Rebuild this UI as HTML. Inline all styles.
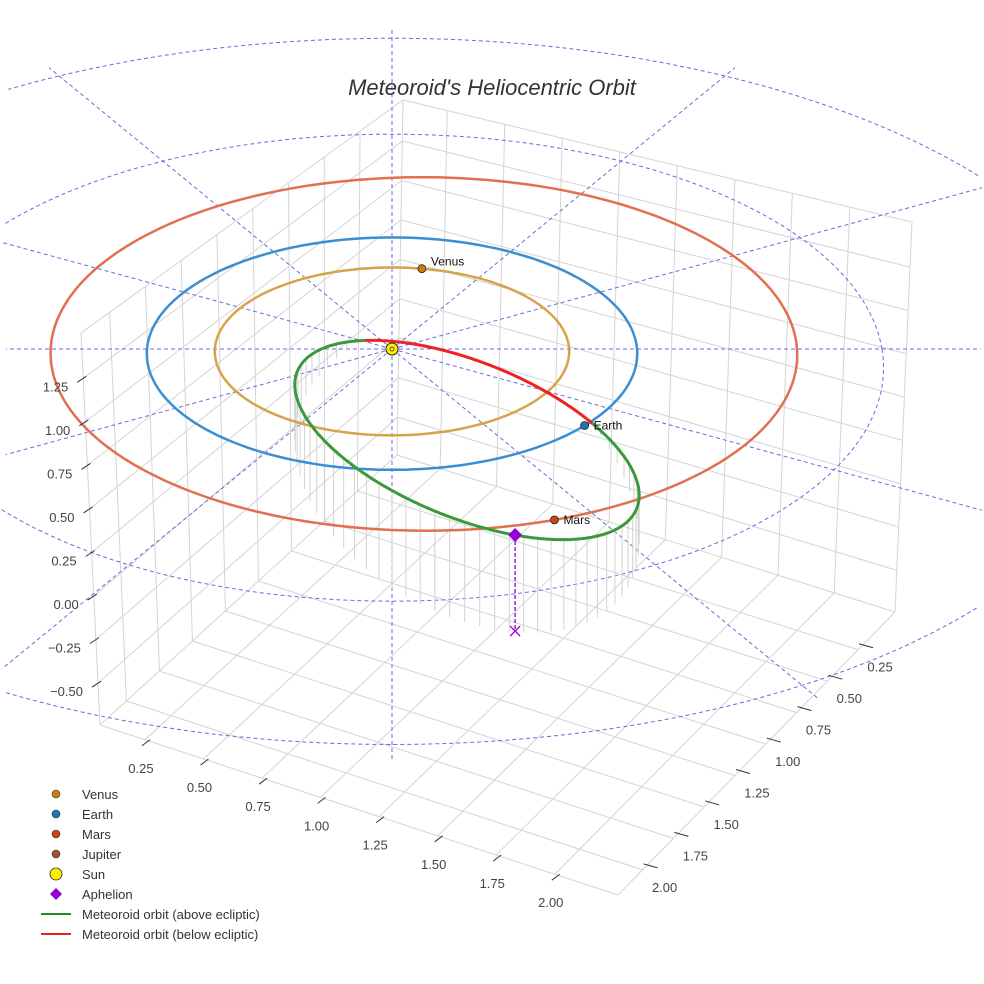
<!DOCTYPE html>
<html><head><meta charset="utf-8"><style>
html,body{margin:0;padding:0;background:#fff;width:984px;height:984px;overflow:hidden}
svg{display:block;overflow:hidden;font-family:"Liberation Sans",sans-serif}
</style></head><body>
<svg id="chart" width="984" height="984" viewBox="0 0 984 984" xmlns="http://www.w3.org/2000/svg">
<rect width="984" height="984" fill="#fff"/>
<g id="walls"></g>
<g id="polar"></g>
<g id="drops"></g>
<g id="orbits"></g>
<g id="meteor"></g>
<g id="marks"></g>
<g id="ticks"></g>
<text x="492" y="95" text-anchor="middle" font-size="22" font-style="italic" fill="#333">Meteoroid's Heliocentric Orbit</text>
<g id="legend"></g>
</svg>
<script>
// ---- data ----
const xTicks = [0.25,0.50,0.75,1.00,1.25,1.50,1.75,2.00];
const yTicks = [0.25,0.50,0.75,1.00,1.25,1.50,1.75,2.00];
const zTicks = [-0.50,-0.25,0.00,0.25,0.50,0.75,1.00,1.25];
const planetNames = ["Venus","Earth","Mars"];
const planetRadii = [0.723,1.0,1.524];
const planetCenterX = [0,0,0.13];
const planetCenterY = [0,0,0.05];
const planetAngles = [80,-40,-71];
const planetColors = ["#d8a24c","#3b8fd0","#e0704f"];
const markerColors = ["#c87d0f","#1f77b4","#cc4411"];
const gridRadii = [1,2,3];
const gridAngles = [0,30,60,90,120,150,180,210,240,270,300,330];
const radialLength = [3.1];
// meteoroid orbit (screen-projected ellipse): centre x, centre y, semi-major, semi-minor, rotation deg
const meteorEllipse = [467,440,183,78,22];
const redRange = [-136,-53];
const aphelionT = [64];
const dropPeak = [100];
const aphelionDrop = [96];

const NS="http://www.w3.org/2000/svg";
function mk(tag,attrs,parent){const e=document.createElementNS(NS,tag);for(const k in attrs)e.setAttribute(k,attrs[k]);parent.appendChild(e);return e;}
const $=id=>document.getElementById(id);

// ---- box geometry ----
const xr=[0.058,2.27], yr=[-0.05,2.2], zr=[-0.74,1.51];
const L=[100,725],F=[618,895],R=[895,612],B=[397,455];
const Lt=[81,333],Bt=[403,100],Rt=[912,222];
function lerp(a,b,t){return [a[0]+(b[0]-a[0])*t,a[1]+(b[1]-a[1])*t];}
function bil(p00,p10,p11,p01,u,v){return lerp(lerp(p00,p10,u),lerp(p01,p11,u),v);}
const fx=x=>(x-xr[0])/(xr[1]-xr[0]);
const fy=y=>(yr[1]-y)/(yr[1]-yr[0]);
const fz=z=>(z-zr[0])/(zr[1]-zr[0]);
const W=$("walls");
function gl(a,b,name){const l=mk("line",{x1:a[0],y1:a[1],x2:b[0],y2:b[1],stroke:"#d4d4d4","stroke-width":1},W);

}
xTicks.forEach(x=>{gl(bil(L,F,R,B,fx(x),0),bil(L,F,R,B,fx(x),1),'floor-gridline-x');});
yTicks.forEach(y=>{gl(bil(L,F,R,B,0,fy(y)),bil(L,F,R,B,1,fy(y)),'floor-gridline-y');});
yTicks.forEach(y=>{gl(bil(L,B,Bt,Lt,fy(y),0),bil(L,B,Bt,Lt,fy(y),1),'left-wall-gridline-y');});
zTicks.forEach(z=>{gl(bil(L,B,Bt,Lt,0,fz(z)),bil(L,B,Bt,Lt,1,fz(z)),'left-wall-gridline-z');});
xTicks.forEach(x=>{gl(bil(B,R,Rt,Bt,fx(x),0),bil(B,R,Rt,Bt,fx(x),1),'right-wall-gridline-x');});
zTicks.forEach(z=>{gl(bil(B,R,Rt,Bt,0,fz(z)),bil(B,R,Rt,Bt,1,fz(z)),'right-wall-gridline-z');});
[[L,F],[F,R],[L,Lt],[B,Bt],[R,Rt],[Lt,Bt],[Bt,Rt],[L,B],[B,R]].forEach(p=>gl(p[0],p[1],'box-edge'));

// ---- ticks ----
const T=$("ticks");
function tk(a,b,name){const l=mk("line",{x1:a[0],y1:a[1],x2:b[0],y2:b[1],stroke:"#333","stroke-width":1},T);

}
function tl(x,y,s,anchor,name){const t=mk("text",{x:x,y:y,"font-size":13,fill:"#444","text-anchor":anchor},T);t.textContent=s;

}
zTicks.forEach(z=>{const p=lerp(L,Lt,fz(z));tk([p[0]-6,p[1]+4],[p[0]+3,p[1]-2],'z-tick');
tl(p[0]-15,p[1]+13,z.toFixed(2).replace('-','\u2212'),"end",'z-tick-label');});
xTicks.forEach(x=>{const p=lerp(L,F,fx(x));tk([p[0]-3,p[1]+6],[p[0]+5,p[1]],'x-tick');
tl(p[0]-4,p[1]+33,x.toFixed(2),"middle",'x-tick-label');});
yTicks.forEach(y=>{const p=lerp(F,R,fy(y));tk([p[0]+1,p[1]-6],[p[0]+15,p[1]-2],'y-tick');
tl(p[0]+22,p[1]+22,y.toFixed(2),"middle",'y-tick-label');});

// ---- ecliptic projection ----
const SX=392,SY=349,KX=245,KY=116,ZS=174;
function proj(x,y,z){const s=1/(1+0.04*y);return [SX+KX*x*s,SY-KY*y*s-(z||0)*ZS*s];}
const inF=p=>p[0]>=1&&p[0]<=983&&p[1]>=1&&p[1]<=983;
function ptsPath(pts){let d="",pen=false;pts.forEach(p=>{if(inF(p)){d+=(pen?"L":"M")+p[0].toFixed(1)+","+p[1].toFixed(1);pen=true;}else pen=false;});return d||"M0,0";}
function circPath(cx,cy,r,n){const pts=[];for(let i=0;i<=n;i++){const a=2*Math.PI*i/n;pts.push(proj(cx+r*Math.cos(a),cy+r*Math.sin(a)));}return ptsPath(pts);}
const P=$("polar");
gridRadii.forEach(r=>{const e=mk("path",{d:circPath(0,0,r,360),fill:"none",stroke:"#6a6ae0","stroke-width":1,"stroke-dasharray":"4,3"},P);

});
gridAngles.forEach(a=>{const t=a*Math.PI/180;const pts=[];for(let i=0;i<=120;i++){const r=radialLength[0]*i/120;pts.push(proj(r*Math.cos(t),r*Math.sin(t)));}
const e=mk("path",{d:ptsPath(pts),fill:"none",stroke:"#6a6ae0","stroke-width":1,"stroke-dasharray":"4,3"},P);

});

// ---- meteoroid ellipse ----
const [mcx,mcy,ma,mb,mrot]=meteorEllipse;
function ell(tdeg){const t=tdeg*Math.PI/180,r=mrot*Math.PI/180;const u=ma*Math.cos(t),v=mb*Math.sin(t);
return [mcx+u*Math.cos(r)-v*Math.sin(r),mcy+u*Math.sin(r)+v*Math.cos(r)];}
const D=$("drops");
const g0=redRange[1],g1=redRange[0]+360;
for(let t=g0+4;t<g1;t+=5){const p=ell(t);const h=dropPeak[0]*Math.sin(Math.PI*(t-g0)/(g1-g0));if(h<4)continue;
const l=mk("line",{x1:p[0],y1:p[1],x2:p[0],y2:p[1]+h,stroke:"#d2d2d2","stroke-width":1},D);

}

// ---- planet orbits ----
const O=$("orbits");
planetNames.forEach((n,i)=>{const e=mk("path",{d:circPath(planetCenterX[i],planetCenterY[i],planetRadii[i],240),fill:"none",stroke:planetColors[i],"stroke-width":2.5},O);

});

const M=$("meteor");
function arc(a,b){let d="";const n=Math.max(2,Math.round(Math.abs(b-a)));for(let i=0;i<=n;i++){const p=ell(a+(b-a)*i/n);d+=(i?"L":"M")+p[0].toFixed(1)+","+p[1].toFixed(1);}return d;}
const gArc=mk("path",{d:arc(g0,g1),fill:"none",stroke:"#3a9a3a","stroke-width":3},M);


const rArc=mk("path",{d:arc(redRange[0],redRange[1]),fill:"none",stroke:"#ee2222","stroke-width":3},M);



// ---- markers ----
const K=$("marks");
const ap=ell(aphelionT[0]);
const adl=mk("line",{x1:ap[0],y1:ap[1],x2:ap[0],y2:ap[1]+aphelionDrop[0],stroke:"#9400d3","stroke-width":1.3,"stroke-dasharray":"4,2"},K);


const ax=ap[0],ay=ap[1]+aphelionDrop[0];
const apx=mk("path",{d:`M${ax-5},${ay-5}L${ax+5},${ay+5}M${ax-5},${ay+5}L${ax+5},${ay-5}`,stroke:"#9400d3","stroke-width":1.3},K);


const apd=mk("path",{d:`M${ap[0]},${ap[1]-7}L${ap[0]+7},${ap[1]}L${ap[0]},${ap[1]+7}L${ap[0]-7},${ap[1]}Z`,fill:"#9400d3"},K);


planetNames.forEach((n,i)=>{const t=planetAngles[i]*Math.PI/180;const p=proj(planetCenterX[i]+planetRadii[i]*Math.cos(t),planetCenterY[i]+planetRadii[i]*Math.sin(t));
const c=mk("circle",{cx:p[0],cy:p[1],r:4,fill:markerColors[i],stroke:"#222","stroke-width":0.8},K);


const tx=mk("text",{x:p[0]+9,y:p[1]+(i===0?-3:4),"font-size":12,fill:"#111"},K);tx.textContent=n;

});
const sp=proj(0,0);
const sun=mk("circle",{cx:sp[0],cy:sp[1],r:6,fill:"#ffee00",stroke:"#222","stroke-width":1},K);


const sunc=mk("circle",{cx:sp[0],cy:sp[1],r:2,fill:"none",stroke:"#333","stroke-width":0.8},K);



// ---- legend ----
const G=$("legend");
const legendLabels=["Venus","Earth","Mars","Jupiter","Sun","Aphelion","Meteoroid orbit (above ecliptic)","Meteoroid orbit (below ecliptic)"];
const legendColors=["#c87d0f","#1f77b4","#cc4411","#a0522d","#ffee00","#9400d3","#228b22","#e82020"];
legendLabels.forEach((lab,i)=>{const y=794+i*20;let m;
if(i<4){m=mk("circle",{cx:56,cy:y,r:4,fill:legendColors[i],stroke:"#333","stroke-width":0.6},G);}
else if(i===4){m=mk("circle",{cx:56,cy:y,r:6,fill:legendColors[i],stroke:"#222","stroke-width":0.8},G);}
else if(i===5){m=mk("path",{d:`M56,${y-6}L62,${y}L56,${y+6}L50,${y}Z`,fill:legendColors[i]},G);}
else{m=mk("line",{x1:41,y1:y,x2:71,y2:y,stroke:legendColors[i],"stroke-width":2},G);}


const t=mk("text",{x:82,y:y+5,"font-size":13,fill:"#333"},G);t.textContent=lab;

});
</script>
</body></html>
